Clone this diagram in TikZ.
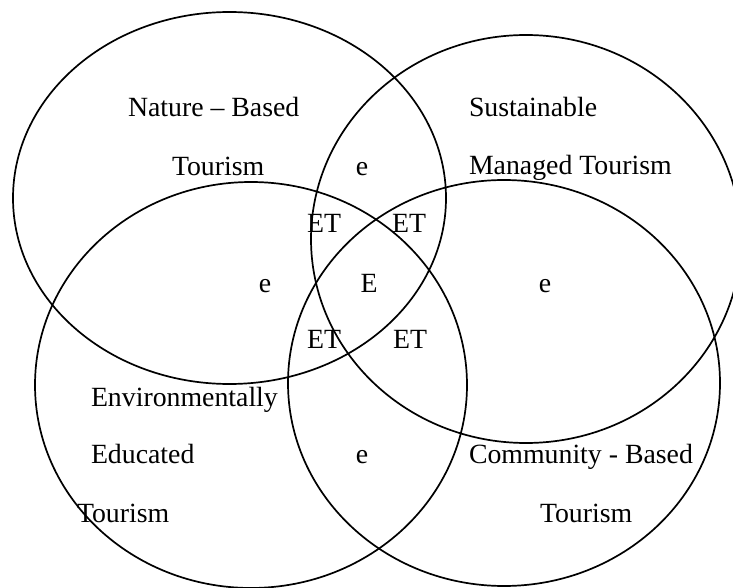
\documentclass[tikz,border=0pt]{standalone}
\usepackage{fontspec}
\setmainfont{Liberation Serif}
\begin{document}
\begin{tikzpicture}[x=1pt,y=-1pt,
  ring/.style={draw=black,line width=1.7pt},
  lbl/.style={inner sep=0pt,outer sep=0pt,font=\fontsize{27.8}{30}\selectfont}]
\useasboundingbox (0,0) rectangle (733,588);
\clip (0,0) rectangle (733,588);
% four ellipses
\draw[ring] (229.5,198) ellipse [x radius=216.5, y radius=186];
\draw[ring] (526,239) ellipse [x radius=215, y radius=204];
\draw[ring] (251,385) ellipse [x radius=216, y radius=203];
\draw[ring] (504,383) ellipse [x radius=216, y radius=203];
% labels
\node[lbl,anchor=base west] (nb1) at (128,117) {Nature – Based};
\node[lbl,anchor=base west] (nb2) at (172,176) {Tourism};
\node[lbl,anchor=base west] (sm1) at (469,117) {Sustainable};
\node[lbl,anchor=base west] (sm2) at (469,175) {Managed Tourism};
\node[lbl,anchor=base west] (ee1) at (91,406) {Environmentally};
\node[lbl,anchor=base west] (ee2) at (91,463) {Educated};
\node[lbl,anchor=base west] (ee3) at (77,522) {Tourism};
\node[lbl,anchor=base west] (cb1) at (469,463) {Community - Based};
\node[lbl,anchor=base west] (cb2) at (540,522) {Tourism};
\node[lbl,anchor=base] (eTop) at (362,176) {e};
\node[lbl,anchor=base] (eLeft) at (265,292) {e};
\node[lbl,anchor=base] (eRight) at (545,292) {e};
\node[lbl,anchor=base] (eBot) at (362,463) {e};
\node[lbl,anchor=base] (cE) at (369,292) {E};
\node[lbl,anchor=base] (et1) at (324,232) {ET};
\node[lbl,anchor=base] (et2) at (409,232) {ET};
\node[lbl,anchor=base] (et3) at (324,348) {ET};
\node[lbl,anchor=base] (et4) at (410,348) {ET};
\end{tikzpicture}
\end{document}
